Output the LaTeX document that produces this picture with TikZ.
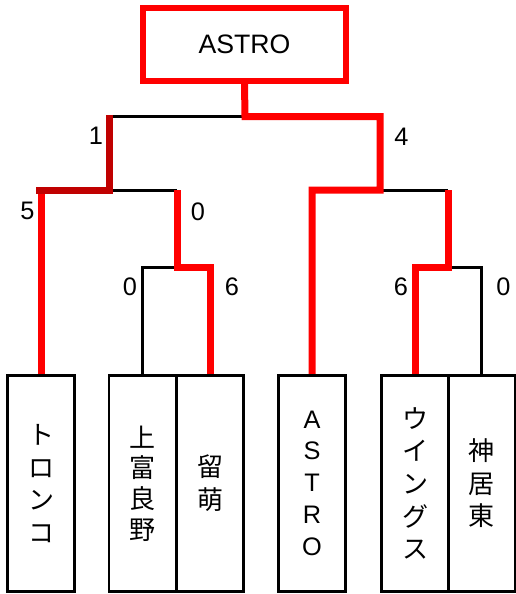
\documentclass[tikz,border=0pt]{standalone}
\usepackage{fontspec}
\setmainfont{Liberation Sans}
\newfontfamily\cjk{Noto Sans CJK JP}
\definecolor{winred}{HTML}{FF0000}
\definecolor{darkwin}{HTML}{C00000}
\tikzset{
  champbox/.style={draw=winred, line width=4.5pt, minimum width=152.25pt, minimum height=54.4pt, inner sep=0pt, font=\fontsize{20pt}{24pt}\selectfont},
  teambox/.style={draw=black, line width=2pt, minimum width=50.25pt, minimum height=162.2pt, inner sep=0pt, align=center},
  jp/.style={font=\cjk\fontsize{19.5pt}{24.5pt}\selectfont},
  lat/.style={font=\fontsize{19pt}{24pt}\selectfont},
  blk/.style={draw=black, line width=2.25pt},
  redl/.style={draw=winred, line width=5.25pt},
  dredl/.style={draw=darkwin, line width=5.25pt},
  score/.style={inner sep=0pt, font=\fontsize{19pt}{22pt}\selectfont}
}
\begin{document}
\begin{tikzpicture}[x=0.75pt, y=-0.75pt]
\useasboundingbox (0,0) rectangle (516,594);
% teams
\node[teambox, jp] (t1) at (41,483.4) {ト\\ロ\\ン\\コ};
\node[teambox, font=\cjk\fontsize{19.5pt}{23pt}\selectfont] (t2) at (142.5,483.4) {上\\富\\良\\野};
\node[teambox, jp] (t3) at (210,483.4) {留\\萌};
\node[teambox, lat] (t4) at (312,483.4) {A\\S\\T\\R\\O};
\node[teambox, jp] (t5) at (415,483.4) {ウ\\イ\\ン\\グ\\ス};
\node[teambox, jp] (t6) at (481.5,483.4) {神\\居\\東};
% champion
\node[champbox] (champ) at (244.5,44.25) {ASTRO};
% junctions
\coordinate (fin) at (245,116.5);
\coordinate (q1) at (109,116.5);
\coordinate (q2) at (380,116.5);
\coordinate (l1) at (41,190);
\coordinate (l2) at (109,190);
\coordinate (m1) at (177,190);
\coordinate (m2) at (177,267);
\coordinate (r2) at (380,190);
\coordinate (r3) at (448,190);
\coordinate (r4) at (448,267);
% black (losing) lines
\draw[blk] (q1) -- (fin);
\draw[blk] (l2) -- (m1);
\draw[blk] (t2.north) |- (m2);
\draw[blk] (r2) -- (r3);
\draw[blk] (t6.north) |- (r4);
% red (winning) lines
\draw[redl] (t1.north) -- (l1);
\draw[dredl] ([xshift=-3.5pt]l1) -- (l2) -- ([yshift=1.2pt]q1);
\draw[redl] (t3.north) |- (m2) -- (m1);
\draw[redl] (t4.north) |- (r2) |- (fin) -- (champ.south);
\draw[redl] (r3) -- (r4) -| (t5.north);
% scores
\node[score] (s1) at (96,136) {1};
\node[score] (s4) at (401.5,137) {4};
\node[score] (s5) at (27.5,211) {5};
\node[score] (s0a) at (198,211.5) {0};
\node[score] (s0b) at (130,286.5) {0};
\node[score] (s6a) at (232,286.5) {6};
\node[score] (s6b) at (401,286.5) {6};
\node[score] (s0c) at (503.5,286.5) {0};
\end{tikzpicture}
\end{document}
